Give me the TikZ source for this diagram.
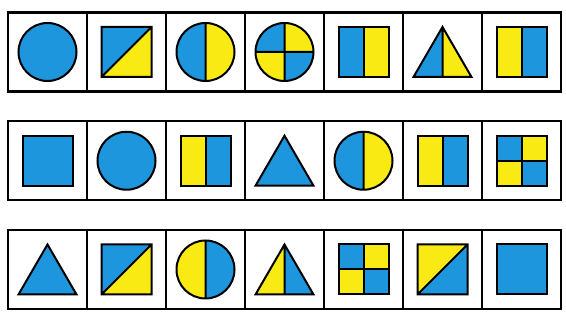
\documentclass[tikz,border=0pt]{standalone}
\definecolor{cblue}{RGB}{30,150,222}
\definecolor{cyellow}{RGB}{250,234,20}
\begin{document}
\begin{tikzpicture}[x=0.3mm, y=0.3mm,
    cell/.style={rectangle, draw, line width=0.7mm, minimum size=23.7mm, inner sep=0pt},
    outline/.style={draw, line width=0.6mm},
    pics/disc/.style={code={\path[outline, fill=#1] (0,0) circle (29);}},
    pics/halfdisc/.style 2 args={code={
        \fill[#1] (0,29) arc (90:270:29) -- cycle;
        \fill[#2] (0,-29) arc (-90:90:29) -- cycle;
        \path[outline] (0,0) circle (29) (0,29) -- (0,-29);}},
    pics/quarterdisc/.style 2 args={code={
        \fill[#1] (0,0) -- (-29,0) arc (180:90:29) -- cycle;
        \fill[#2] (0,0) -- (0,29) arc (90:0:29) -- cycle;
        \fill[#2] (0,0) -- (0,-29) arc (270:180:29) -- cycle;
        \fill[#1] (0,0) -- (29,0) arc (0:-90:29) -- cycle;
        \path[outline] (0,0) circle (29) (0,29) -- (0,-29) (-29,0) -- (29,0);}},
    pics/sq/.style={code={\path[outline, fill=#1] (-25,-25) rectangle (25,25);}},
    pics/halfsq/.style 2 args={code={
        \fill[#1] (-25,-25) rectangle (0,25);
        \fill[#2] (0,-25) rectangle (25,25);
        \path[outline] (-25,-25) rectangle (25,25) (0,-25) -- (0,25);}},
    pics/quartersq/.style 2 args={code={
        \fill[#1] (-25,0) rectangle (0,25);
        \fill[#2] (0,0) rectangle (25,25);
        \fill[#2] (-25,-25) rectangle (0,0);
        \fill[#1] (0,-25) rectangle (25,0);
        \path[outline] (-25,-25) rectangle (25,25) (0,-25) -- (0,25) (-25,0) -- (25,0);}},
    pics/diagsq/.style 2 args={code={
        \fill[#1] (-25,-25) -- (-25,25) -- (25,25) -- cycle;
        \fill[#2] (-25,-25) -- (25,-25) -- (25,25) -- cycle;
        \path[outline] (-25,-25) rectangle (25,25) (-25,-25) -- (25,25);}},
    pics/tri/.style={code={\path[outline, fill=#1] (-29,-25) -- (29,-25) -- (0,25) -- cycle;}},
    pics/halftri/.style 2 args={code={
        \fill[#1] (-29,-25) -- (0,-25) -- (0,25) -- cycle;
        \fill[#2] (0,-25) -- (29,-25) -- (0,25) -- cycle;
        \path[outline] (-29,-25) -- (29,-25) -- (0,25) -- cycle (0,-25) -- (0,25);}}]
    \useasboundingbox (0,0) rectangle (566,321);
    % cells
    \foreach \r in {1,2,3}
        \foreach \c in {1,...,7}
            \node[cell] (c\r\c) at ({47.5+79*(\c-1)}, {269-108.75*(\r-1)}) {};
    % row 1
    \pic at (c11) {disc=cblue};
    \pic at (c12) {diagsq={cblue}{cyellow}};
    \pic at (c13) {halfdisc={cblue}{cyellow}};
    \pic at (c14) {quarterdisc={cblue}{cyellow}};
    \pic at (c15) {halfsq={cblue}{cyellow}};
    \pic at (c16) {halftri={cblue}{cyellow}};
    \pic at (c17) {halfsq={cyellow}{cblue}};
    % row 2
    \pic at (c21) {sq=cblue};
    \pic at (c22) {disc=cblue};
    \pic at (c23) {halfsq={cyellow}{cblue}};
    \pic at (c24) {tri=cblue};
    \pic at (c25) {halfdisc={cblue}{cyellow}};
    \pic at (c26) {halfsq={cyellow}{cblue}};
    \pic at (c27) {quartersq={cblue}{cyellow}};
    % row 3
    \pic at (c31) {tri=cblue};
    \pic at (c32) {diagsq={cblue}{cyellow}};
    \pic at (c33) {halfdisc={cyellow}{cblue}};
    \pic at (c34) {halftri={cyellow}{cblue}};
    \pic at (c35) {quartersq={cblue}{cyellow}};
    \pic at (c36) {diagsq={cyellow}{cblue}};
    \pic at (c37) {sq=cblue};
\end{tikzpicture}
\end{document}
